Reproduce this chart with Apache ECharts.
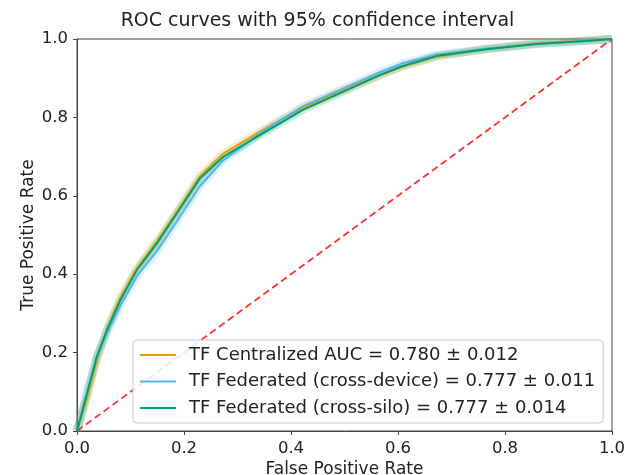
<!DOCTYPE html>
<html>
<head>
<meta charset="utf-8">
<script src="https://cdn.jsdelivr.net/npm/echarts@6/dist/echarts.min.js"></script>
<style>
  html, body { margin: 0; padding: 0; background: #fff; }
  #main { width: 635px; height: 475px; }
</style>
</head>
<body>
<div id="main"></div>
<script>
// false positive rate samples (shared by all curves)
var fpr = [0, 0.019, 0.037, 0.056, 0.081, 0.112, 0.150, 0.187, 0.230, 0.273, 0.348, 0.422, 0.492, 0.566, 0.609, 0.673, 0.766, 0.860, 0.953, 1];
// true positive rate
var tprCentral = [0, 0.085, 0.180, 0.260, 0.340, 0.415, 0.485, 0.560, 0.650, 0.707, 0.768, 0.825, 0.866, 0.908, 0.930, 0.955, 0.975, 0.990, 0.997, 1];
var tprDevice  = [0, 0.100, 0.190, 0.250, 0.320, 0.395, 0.460, 0.535, 0.625, 0.690, 0.765, 0.828, 0.870, 0.915, 0.938, 0.960, 0.976, 0.988, 0.996, 1];
var tprSilo    = [0, 0.097, 0.189, 0.258, 0.334, 0.411, 0.480, 0.556, 0.645, 0.699, 0.760, 0.819, 0.862, 0.908, 0.931, 0.957, 0.974, 0.987, 0.995, 1];
var chanceX = [0, 1];
var chanceY = [0, 1];

var names = [
  'TF Centralized AUC = 0.780 ± 0.012',
  'TF Federated (cross-device) = 0.777 ± 0.011',
  'TF Federated (cross-silo) = 0.777 ± 0.014'
];
var colors = ['#E69F00', '#56B4E9', '#009E73'];
var tprs = [tprCentral, tprDevice, tprSilo];

function pairs(xs, ys) {
  return xs.map(function (x, i) { return [x, ys[i]]; });
}

var series = [];
// faint confidence bands underneath
tprs.forEach(function (t, i) {
  series.push({
    name: names[i] + ' band',
    type: 'line',
    data: pairs(fpr, t),
    symbol: 'none',
    silent: true,
    lineStyle: { color: colors[i], width: 8, opacity: 0.2 },
    z: 1
  });
});
tprs.forEach(function (t, i) {
  series.push({
    name: names[i],
    type: 'line',
    data: pairs(fpr, t),
    symbol: 'none',
    itemStyle: { color: colors[i] },
    lineStyle: { color: colors[i], width: 2 },
    z: 3
  });
});
series.push({
  name: 'chance',
  type: 'line',
  data: pairs(chanceX, chanceY),
  symbol: 'none',
  silent: true,
  lineStyle: { color: '#ff0000', width: 1.8, type: [7, 4], opacity: 0.8 },
  z: 2
});

var chart = echarts.init(document.getElementById('main'));
chart.setOption({
  animation: false,
  textStyle: { fontFamily: 'DejaVu Sans' },
  title: {
    text: 'ROC curves with 95% confidence interval',
    left: 'center',
    top: 7,
    textStyle: { fontSize: 19, fontWeight: 'normal', color: '#222', fontFamily: 'DejaVu Sans' }
  },
  grid: {
    left: 77, right: 23, top: 39, bottom: 44,
    outerBoundsMode: 'none',
    containLabel: false,
    show: true, borderColor: '#444', borderWidth: 1
  },
  legend: {
    data: names,
    orient: 'vertical',
    left: 133,
    top: 340,
    padding: [5, 8, 5, 7],
    itemWidth: 36,
    itemHeight: 2,
    itemGap: 6.5,
    icon: 'rect',
    borderColor: '#ccc',
    borderWidth: 1,
    borderRadius: 4,
    backgroundColor: 'rgba(255,255,255,0.85)',
    textStyle: { fontSize: 18, color: '#222', lineHeight: 20, padding: [0, 0, 0, 8], fontFamily: 'DejaVu Sans' }
  },
  xAxis: {
    type: 'value',
    min: 0, max: 1, interval: 0.2,
    name: 'False Positive Rate',
    nameLocation: 'middle',
    nameGap: 30,
    nameMoveOverlap: false,
    nameTextStyle: { fontSize: 17, color: '#222' },
    axisLine: { show: true, lineStyle: { color: '#444' } },
    axisTick: { show: true, inside: false, length: 4, lineStyle: { color: '#444' } },
    axisLabel: {
      fontSize: 16.5, color: '#222', margin: 9,
      formatter: function (v) { return v.toFixed(1); }
    },
    splitLine: { show: false }
  },
  yAxis: {
    type: 'value',
    min: 0, max: 1, interval: 0.2,
    name: 'True Positive Rate',
    nameLocation: 'middle',
    nameGap: 40,
    nameMoveOverlap: false,
    nameTextStyle: { fontSize: 17, color: '#222' },
    axisLine: { show: true, lineStyle: { color: '#444' } },
    axisTick: { show: true, inside: false, length: 4, lineStyle: { color: '#444' } },
    axisLabel: {
      fontSize: 16.5, color: '#222', margin: 9,
      formatter: function (v) { return v.toFixed(1); }
    },
    splitLine: { show: false }
  },
  series: series
});
</script>
</body>
</html>
